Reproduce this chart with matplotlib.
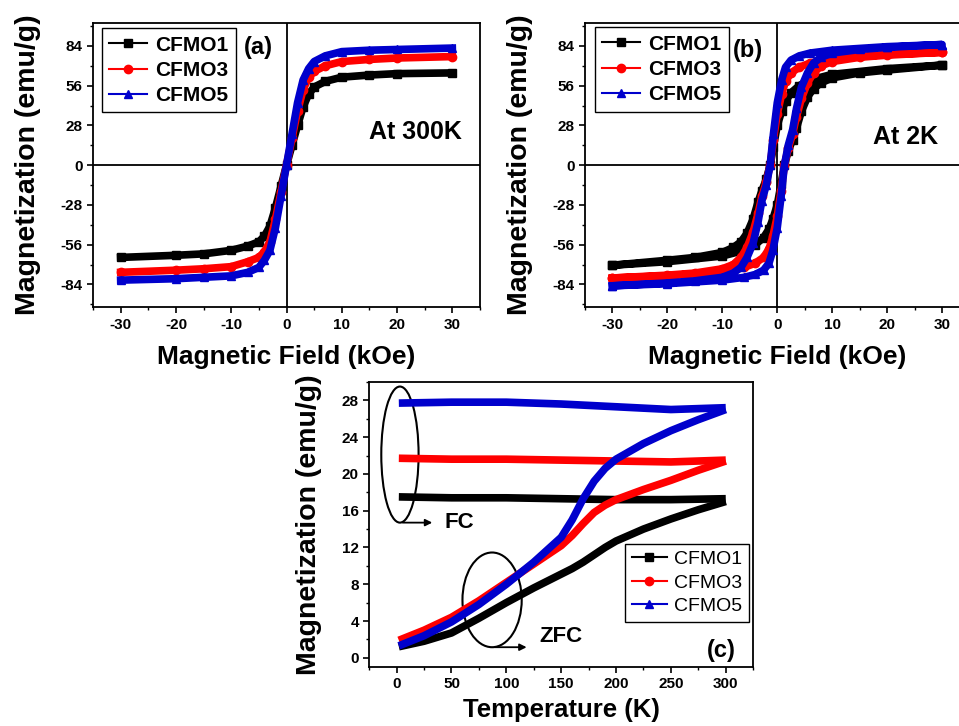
import matplotlib.pyplot as plt
from matplotlib.patches import Ellipse
from matplotlib.ticker import MultipleLocator

plt.rcParams.update({
    "font.family": ["Liberation Sans", "DejaVu Sans"],
    "font.weight": "bold",
    "axes.unicode_minus": False,
    "axes.linewidth": 1.3,
})

labels = ["CFMO1", "CFMO3", "CFMO5"]
colors = ["black", "red", "#0000cc"]
markers = ["s", "o", "^"]

# (a) M-H at 300 K
h_300 = [-30, -20, -15, -10, -7, -5, -4, -3, -2, -1, 0, 1, 2, 3, 4, 5, 7, 10, 15, 20, 30]
m_300_cfmo1 = [-65, -63.5, -62.5, -60, -57, -54, -50, -43, -30, -15, 0, 14, 28, 41, 50, 55, 59, 62, 63.5, 64.5, 65]
m_300_cfmo3 = [-75.5, -74, -73, -71.5, -68, -65, -61, -54, -38, -19, 0, 19, 38, 53, 62, 66, 70, 73, 74.5, 75.5, 76.5]
m_300_cfmo5 = [-81, -80, -79, -78, -75.5, -72, -67, -60, -44, -22, 0, 22, 44, 60, 68, 73, 77, 80, 81, 81.5, 82.5]

# (b) M-H at 2 K, ascending and descending branches
h_2k_up = [-30, -20, -10, -6, -4, -2.5, -1.5, -0.8, 0, 0.7, 1.3, 2, 2.8, 3.5, 4.4, 5.5, 6.6, 8, 10, 15, 20, 30]
h_2k_down = [30, 20, 10, 6, 4, 2.5, 1.5, 0.8, 0, -0.7, -1.3, -2, -2.8, -3.5, -4.4, -5.5, -6.6, -8, -10, -15, -20, -30]
m_2k_cfmo1_up = [-70.5, -68, -64, -60, -56, -51, -45, -38, -28, -13, 0, 10, 18, 26, 38, 48, 54, 58, 61.5, 65, 67, 70.5]
m_2k_cfmo1_down = [70.5, 68, 64, 60, 56, 51, 45, 38, 28, 13, 0, -10, -18, -26, -38, -48, -54, -58, -61.5, -65, -67, -70.5]
m_2k_cfmo3_up = [-79.5, -78, -75, -72, -69, -65, -59, -50, -36, -18, 0, 12, 22, 34, 47, 58, 65, 70, 73, 76, 77.5, 79.5]
m_2k_cfmo3_down = [79.5, 78, 75, 72, 69, 65, 59, 50, 36, 18, 0, -12, -22, -34, -47, -58, -65, -70, -73, -76, -77.5, -79.5]
m_2k_cfmo5_up = [-85, -83.5, -81, -79, -77, -74, -69, -60, -44, -22, 0, 14, 25, 40, 55, 65, 72, 76, 79, 81.5, 83, 85]
m_2k_cfmo5_down = [85, 83.5, 81, 79, 77, 74, 69, 60, 44, 22, 0, -14, -25, -40, -55, -65, -72, -76, -79, -81.5, -83, -85]

# (c) ZFC / FC
t_fc = [2, 50, 100, 150, 200, 250, 300]
fc_cfmo1 = [17.5, 17.4, 17.4, 17.3, 17.2, 17.2, 17.3]
fc_cfmo3 = [21.7, 21.6, 21.6, 21.5, 21.4, 21.3, 21.5]
fc_cfmo5 = [27.7, 27.8, 27.8, 27.6, 27.3, 27.0, 27.2]
t_zfc = [2, 25, 50, 75, 100, 125, 150, 160, 170, 180, 190, 200, 225, 250, 275, 300]
zfc_cfmo1 = [1.2, 1.8, 2.7, 4.3, 6.0, 7.6, 9.1, 9.7, 10.4, 11.2, 12.0, 12.7, 14.0, 15.1, 16.1, 17.0]
zfc_cfmo3 = [1.9, 3.0, 4.4, 6.2, 8.2, 10.2, 12.2, 13.3, 14.6, 15.8, 16.6, 17.2, 18.3, 19.3, 20.4, 21.4]
zfc_cfmo5 = [1.3, 2.4, 3.9, 5.8, 8.0, 10.4, 13.1, 15.0, 17.3, 19.2, 20.6, 21.6, 23.3, 24.7, 25.9, 27.0]


def style_axes(ax, xmaj, xmin, ymaj, ymin):
    ax.xaxis.set_major_locator(MultipleLocator(xmaj))
    ax.xaxis.set_minor_locator(MultipleLocator(xmin))
    ax.yaxis.set_major_locator(MultipleLocator(ymaj))
    ax.yaxis.set_minor_locator(MultipleLocator(ymin))
    ax.tick_params(which="major", direction="out", length=4, width=1.2, labelsize=11)
    ax.tick_params(which="minor", direction="out", length=2.5, width=1.0)
    for lab in ax.get_xticklabels() + ax.get_yticklabels():
        lab.set_fontweight("bold")


def add_legend(ax, **kw):
    leg = ax.legend(frameon=True, fancybox=False, edgecolor="black", framealpha=1,
                    borderaxespad=0, handlelength=1.8, handletextpad=0.4,
                    labelspacing=0.3, borderpad=0.35, **kw)
    leg.get_frame().set_linewidth(1.0)
    return leg


fig = plt.figure(figsize=(9.59, 7.26), dpi=100)

# panel (a)
ax1 = fig.add_axes([0.097, 0.577, 0.4035, 0.391])
series_a = [m_300_cfmo1, m_300_cfmo3, m_300_cfmo5]
for m, c, mk, lab in zip(series_a, colors, markers, labels):
    ax1.plot(h_300, m, color=c, lw=5.5, marker=mk, ms=6, label=lab)
ax1.axhline(0, color="black", lw=1.3, zorder=0)
ax1.axvline(0, color="black", lw=1.3, zorder=0)
ax1.set_xlim(-35, 35)
ax1.set_ylim(-100, 100)
style_axes(ax1, 10, 5, 28, 14)
ax1.set_xlabel("Magnetic Field (kOe)", fontsize=19, fontweight="bold", labelpad=10)
ax1.set_ylabel("Magnetization (emu/g)", fontsize=20.5, fontweight="bold", labelpad=14)
leg = add_legend(ax1, loc="upper left", bbox_to_anchor=(0.023, 0.982), prop={"size": 15, "weight": "bold"})
for h in leg.legend_handles:
    h.set_linewidth(1.5)
    h.set_markersize(6)
ax1.text(-5.1, 83, "(a)", fontsize=17, ha="center", va="center")
ax1.text(23.4, 23.5, "At 300K", fontsize=18, ha="center", va="center")

# panel (b)
ax2 = fig.add_axes([0.610, 0.577, 0.401, 0.391])
series_b = [(m_2k_cfmo1_up, m_2k_cfmo1_down), (m_2k_cfmo3_up, m_2k_cfmo3_down),
            (m_2k_cfmo5_up, m_2k_cfmo5_down)]
for (up, down), c, mk, lab in zip(series_b, colors, markers, labels):
    ax2.plot(h_2k_up + h_2k_down, up + down, color=c, lw=5.5, marker=mk, ms=6, label=lab)
ax2.axhline(0, color="black", lw=1.3, zorder=0)
ax2.axvline(0, color="black", lw=1.3, zorder=0)
ax2.set_xlim(-35, 35)
ax2.set_ylim(-100, 100)
style_axes(ax2, 10, 5, 28, 14)
ax2.set_xlabel("Magnetic Field (kOe)", fontsize=19, fontweight="bold", labelpad=10)
ax2.set_ylabel("Magnetization (emu/g)", fontsize=20.5, fontweight="bold", labelpad=14)
leg = add_legend(ax2, loc="upper left", bbox_to_anchor=(0.026, 0.985), prop={"size": 15, "weight": "bold"})
for h in leg.legend_handles:
    h.set_linewidth(1.5)
    h.set_markersize(6)
ax2.text(-5.4, 81, "(b)", fontsize=17, ha="center", va="center")
ax2.text(23.3, 20, "At 2K", fontsize=18, ha="center", va="center")

# panel (c)
ax3 = fig.add_axes([0.385, 0.0813, 0.4004, 0.3926])
fc_all = [fc_cfmo1, fc_cfmo3, fc_cfmo5]
zfc_all = [zfc_cfmo1, zfc_cfmo3, zfc_cfmo5]
for fc, zfc, c, mk, lab in zip(fc_all, zfc_all, colors, markers, labels):
    ax3.plot(t_fc, fc, color=c, lw=5.5, solid_capstyle="butt")
    ax3.plot(t_zfc, zfc, color=c, lw=5.5, solid_capstyle="butt")
    ax3.plot([], [], color=c, lw=1.5, marker=mk, ms=6, label=lab)
ax3.set_xlim(-25, 325)
ax3.set_ylim(-1, 30)
style_axes(ax3, 50, 25, 4, 2)
ax3.set_xlabel("Temperature (K)", fontsize=18.5, fontweight="bold", labelpad=5)
ax3.set_ylabel("Magnetization (emu/g)", fontsize=20.5, fontweight="bold", labelpad=14)
add_legend(ax3, loc="upper right", bbox_to_anchor=(0.99, 0.432), prop={"size": 14, "weight": "normal"})

ax3.add_patch(Ellipse((3, 22.1), 34, 14.8, fill=False, ec="black", lw=1.5))
ax3.annotate("", xy=(35, 14.7), xytext=(3, 14.7),
             arrowprops=dict(arrowstyle="-|>", color="black", lw=1.3, mutation_scale=10))
ax3.text(44, 14.7, "FC", fontsize=16, ha="left", va="center")
ax3.add_patch(Ellipse((87, 6.3), 54, 10.3, fill=False, ec="black", lw=1.5))
ax3.annotate("", xy=(121, 1.15), xytext=(87, 1.15),
             arrowprops=dict(arrowstyle="-|>", color="black", lw=1.3, mutation_scale=10))
ax3.text(130, 2.3, "ZFC", fontsize=16, ha="left", va="center")
ax3.text(296, 0.8, "(c)", fontsize=17, ha="center", va="center")

fig.savefig("out.png", dpi=100)
